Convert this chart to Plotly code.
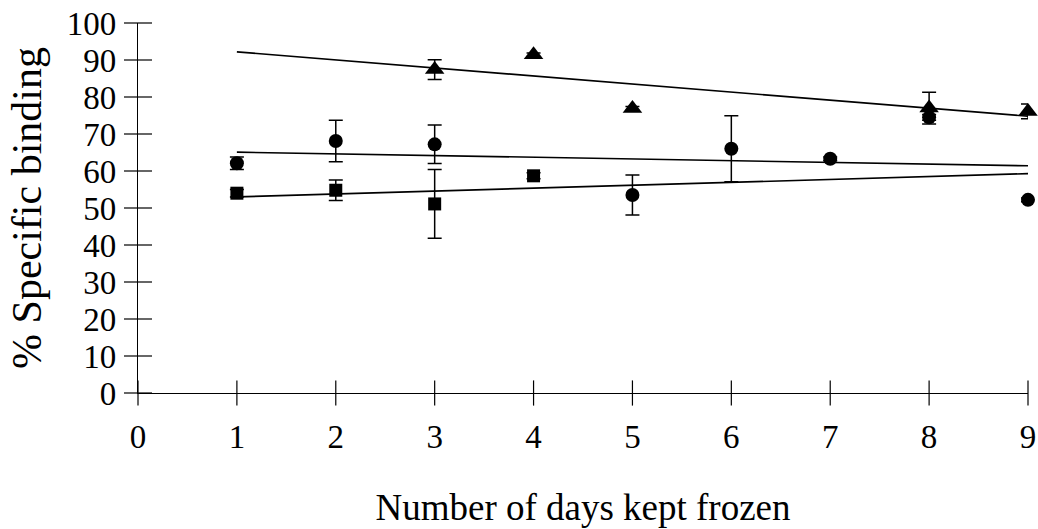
import plotly.graph_objects as go

# ---- data ----
tri_x = [3, 4, 5, 8, 9]
tri_y = [87.4, 91.4, 76.9, 77.0, 76.1]
tri_err = [2.7, 0.5, 0.5, 4.3, 2.0]

circ_x = [1, 2, 3, 5, 6, 7, 8, 9]
circ_y = [62.1, 68.1, 67.2, 53.5, 66.0, 63.3, 74.5, 52.2]
circ_err = [1.7, 5.6, 5.2, 5.4, 8.9, 0.5, 0.8, 0.5]

sq_x = [1, 2, 3, 4]
sq_y = [54.0, 54.8, 51.1, 58.7]
sq_err = [1.0, 2.8, 9.3, 0.8]

fit_x = [1, 9]
tri_fit = [92.2, 74.8]
circ_fit = [65.1, 61.4]
sq_fit = [53.0, 59.3]

x_ticks = [0, 1, 2, 3, 4, 5, 6, 7, 8, 9]
y_ticks = [0, 10, 20, 30, 40, 50, 60, 70, 80, 90, 100]

FONT = "Liberation Serif, Times New Roman, serif"
BLACK = "black"

fig = go.Figure()

# tick marks crossing the axes
fig.add_trace(go.Scatter(x=[0] * len(y_ticks), y=y_ticks, mode="markers",
                         marker=dict(symbol="line-ew", size=20, line=dict(width=1.2, color=BLACK)),
                         hoverinfo="skip", showlegend=False, cliponaxis=False))
fig.add_trace(go.Scatter(x=x_ticks, y=[0] * len(x_ticks), mode="markers",
                         marker=dict(symbol="line-ns", size=18, line=dict(width=1.2, color=BLACK)),
                         hoverinfo="skip", showlegend=False, cliponaxis=False))

# trend lines
for fy in (tri_fit, circ_fit, sq_fit):
    fig.add_trace(go.Scatter(x=fit_x, y=fy, mode="lines",
                             line=dict(color=BLACK, width=1.6),
                             showlegend=False, cliponaxis=False))

err_style = dict(type="data", visible=True, color=BLACK, thickness=1.5, width=7)

fig.add_trace(go.Scatter(x=tri_x, y=tri_y, mode="markers",
                         marker=dict(symbol="triangle-up", size=17, color=BLACK),
                         error_y=dict(array=tri_err, **err_style),
                         showlegend=False, cliponaxis=False))
fig.add_trace(go.Scatter(x=circ_x, y=circ_y, mode="markers",
                         marker=dict(symbol="circle", size=14, color=BLACK),
                         error_y=dict(array=circ_err, **err_style),
                         showlegend=False, cliponaxis=False))
fig.add_trace(go.Scatter(x=sq_x, y=sq_y, mode="markers",
                         marker=dict(symbol="square", size=13, color=BLACK),
                         error_y=dict(array=sq_err, **err_style),
                         showlegend=False, cliponaxis=False))

fig.update_layout(
    width=1038, height=529,
    margin=dict(l=138, r=10, t=23, b=136),
    paper_bgcolor="white", plot_bgcolor="white",
    font=dict(family=FONT, color=BLACK, size=33),
    xaxis=dict(range=[0, 9], tickvals=x_ticks, ticks="", showgrid=False,
               zeroline=False, showline=True, linecolor=BLACK, linewidth=1.2,
               automargin=False, ticklabeloverflow="allow",
               tickfont=dict(family=FONT, size=33, color=BLACK),
               ticklabelstandoff=14,
               title=dict(text="Number of days kept frozen",
                          font=dict(family=FONT, size=37, color=BLACK), standoff=40)),
    yaxis=dict(range=[0, 100], tickvals=y_ticks, ticks="", showgrid=False,
               zeroline=False, showline=True, linecolor=BLACK, linewidth=1.2,
               automargin=False, ticklabeloverflow="allow",
               tickfont=dict(family=FONT, size=33, color=BLACK),
               ticklabelstandoff=14,
               title=dict(text="% Specific binding",
                          font=dict(family=FONT, size=42, color=BLACK), standoff=12)),
)

fig.write_html("out.html",
               config={"displayModeBar": False, "staticPlot": True},
               post_script="document.body.style.margin='0';document.body.style.overflow='hidden';")
